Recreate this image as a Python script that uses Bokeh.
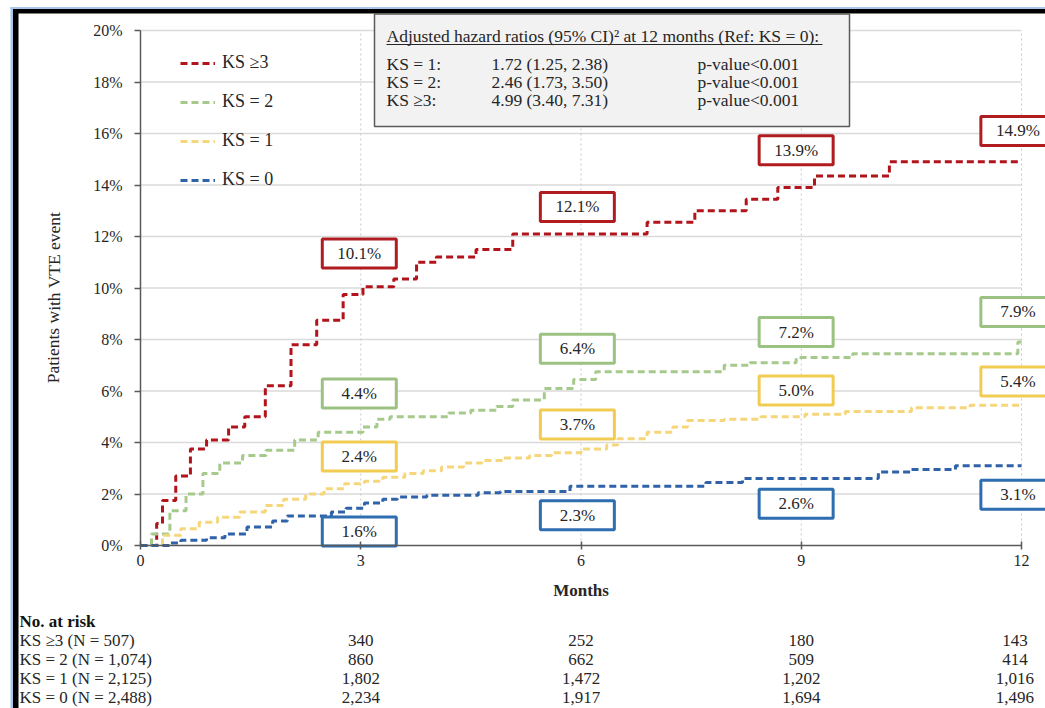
from bokeh.plotting import figure
from bokeh.models import FixedTicker, PrintfTickFormatter, Legend, LegendItem, Range1d
from bokeh.core.properties import value
from bokeh.embed import file_html
from bokeh.resources import INLINE

FONT = "Liberation Serif"

# ---------------- data ----------------
months_ticks = [0, 3, 6, 9, 12]
pct_ticks = [0, 2, 4, 6, 8, 10, 12, 14, 16, 18, 20]

series_names = ["KS \u22653", "KS = 2", "KS = 1", "KS = 0"]

ks3_t = [0, 0.22, 0.3, 0.48, 0.68, 0.9, 1.2, 1.42, 1.7, 2.05, 2.4, 2.76, 3.03, 3.45, 3.76,
         4.03, 4.57, 5.07, 6.9, 7.55, 8.25, 8.68, 9.18, 10.2, 12]
ks3_v = [0, 0.85, 1.75, 2.7, 3.75, 4.1, 4.6, 5.0, 6.2, 7.8, 8.75, 9.75, 10.05, 10.35, 11.0,
         11.2, 11.5, 12.1, 12.55, 13.0, 13.45, 13.9, 14.35, 14.9, 14.9]

ks2_t = [0, 0.15, 0.4, 0.62, 0.85, 1.08, 1.39, 1.71, 2.1, 2.42, 3.03, 3.22, 3.4, 4.2, 4.5,
         4.85, 5.07, 5.5, 5.9, 6.2, 7.95, 8.3, 8.93, 9.7, 11.95, 12]
ks2_v = [0, 0.45, 1.35, 2.0, 2.8, 3.2, 3.5, 3.7, 4.1, 4.4, 4.6, 4.9, 5.0, 5.15, 5.25,
         5.4, 5.65, 6.1, 6.45, 6.75, 7.0, 7.1, 7.3, 7.45, 7.9, 7.9]

ks1_t = [0, 0.3, 0.55, 0.8, 1.05, 1.35, 1.7, 1.95, 2.25, 2.5, 2.78, 3.05, 3.3, 3.6, 3.85,
         4.1, 4.4, 4.65, 4.95, 5.3, 5.6, 6.0, 6.35, 6.5, 6.9, 7.25, 7.45, 7.95, 8.45, 9.05,
         9.6, 10.5, 11.3, 12]
ks1_v = [0, 0.4, 0.65, 0.9, 1.1, 1.3, 1.55, 1.8, 2.0, 2.2, 2.4, 2.5, 2.65, 2.8, 2.9,
         3.05, 3.2, 3.3, 3.4, 3.5, 3.6, 3.75, 3.9, 4.15, 4.4, 4.6, 4.85, 4.9, 5.0, 5.1,
         5.2, 5.35, 5.45, 5.45]

ks0_t = [0, 0.4, 0.55, 0.9, 1.15, 1.45, 1.8, 2.0, 2.6, 2.8, 3.05, 3.3, 3.5, 3.9, 4.6, 4.9,
         5.85, 7.7, 8.2, 10.05, 10.5, 11.1, 12]
ks0_v = [0, 0.1, 0.2, 0.3, 0.45, 0.72, 0.95, 1.15, 1.3, 1.45, 1.65, 1.8, 1.88, 1.95, 2.05,
         2.1, 2.3, 2.45, 2.6, 2.85, 2.95, 3.1, 3.1]

label_months = [3, 6, 9, 12]
ks3_labels = [10.1, 12.1, 13.9, 14.9]
ks2_labels = [4.4, 6.4, 7.2, 7.9]
ks1_labels = [2.4, 3.7, 5.0, 5.4]
ks0_labels = [1.6, 2.3, 2.6, 3.1]

hr_title = "Adjusted hazard ratios (95% CI)\u00b2 at 12 months (Ref: KS = 0):"
hr_rows = ["KS = 1:", "KS = 2:", "KS \u22653:"]
hr_values = ["1.72 (1.25, 2.38)", "2.46 (1.73, 3.50)", "4.99 (3.40, 7.31)"]
hr_pvalues = ["p-value<0.001", "p-value<0.001", "p-value<0.001"]

risk_months = [3, 6, 9, 12]
risk_labels = ["KS \u22653 (N = 507)", "KS = 2 (N = 1,074)", "KS = 1 (N = 2,125)", "KS = 0 (N = 2,488)"]
risk_ks3 = [340, 252, 180, 143]
risk_ks2 = [860, 662, 509, 414]
risk_ks1 = [1802, 1472, 1202, 1016]
risk_ks0 = [2234, 1917, 1694, 1496]

# ---------------- styles / layout ----------------
line_colors = ["#B2141C", "#A6C98C", "#F5D67A", "#2F62A8"]
box_colors = ["#B01C20", "#9CC283", "#F2CB52", "#2E6EB0"]
TXT = "#262626"

PAGE_W, PAGE_H = 1045, 708
X0, Y0, PXM, PXP = 140.0, 545.0, 73.42, 25.75   # pixel position of (0 months, 0 %) and scale


def dx(px):
    return (px - X0) / PXM


def dy(py):
    return (Y0 - py) / PXP


p = figure(width=PAGE_W, height=PAGE_H, output_backend="svg", toolbar_location=None,
           x_range=Range1d(dx(0), dx(PAGE_W)), y_range=Range1d(dy(PAGE_H), dy(0)),
           min_border=0, min_border_left=0, min_border_right=0,
           min_border_top=0, min_border_bottom=0)
p.outline_line_color = None
p.background_fill_color = "white"
p.border_fill_color = "white"
p.xgrid.visible = False
p.ygrid.visible = False

# axes pinned at the origin
p.yaxis.fixed_location = 0
p.xaxis.fixed_location = 0
p.yaxis.ticker = FixedTicker(ticks=pct_ticks)
p.yaxis.formatter = PrintfTickFormatter(format="%d%%")
p.yaxis.bounds = (0, 20)
p.xaxis.ticker = FixedTicker(ticks=months_ticks)
p.xaxis.bounds = (0, 12)
for ax in (p.xaxis, p.yaxis):
    ax.axis_line_color = "#5A5A5A"
    ax.axis_line_width = 1.5
    ax.major_tick_line_color = "#5A5A5A"
    ax.major_tick_line_width = 1.5
    ax.minor_tick_line_color = None
    ax.major_label_text_font = FONT
    ax.major_label_text_font_size = "16px"
    ax.major_label_text_color = TXT
p.yaxis.major_tick_out = 6
p.yaxis.major_tick_in = 0
p.yaxis.major_label_standoff = 12
p.xaxis.major_tick_out = 4
p.xaxis.major_tick_in = 4
p.xaxis.major_label_standoff = 5

# picture border (blue hairline + black frame of the original image)
p.quad(left=[dx(10)], right=[dx(PAGE_W)], top=[dy(6.5)], bottom=[dy(8.5)], fill_color="#A9C6E8", line_color=None)
p.quad(left=[dx(10)], right=[dx(12.5)], top=[dy(6.5)], bottom=[dy(PAGE_H)], fill_color="#A9C6E8", line_color=None)
p.quad(left=[dx(12.5)], right=[dx(PAGE_W)], top=[dy(8.5)], bottom=[dy(13)], fill_color="black", line_color=None)
p.quad(left=[dx(12.5)], right=[dx(18)], top=[dy(8.5)], bottom=[dy(PAGE_H)], fill_color="black", line_color=None)

# grid lines
gy = [v for v in pct_ticks if v > 0]
p.segment(x0=[0] * len(gy), x1=[12] * len(gy), y0=gy, y1=gy, line_color="#DADADA", line_width=1.5)
gx = [v for v in months_ticks if v > 0]
p.segment(x0=gx, x1=gx, y0=[0] * len(gx), y1=[20] * len(gx), line_color="#C8C8C8",
          line_width=1, line_dash="2 3")

# curves
all_t = [ks3_t, ks2_t, ks1_t, ks0_t]
all_v = [ks3_v, ks2_v, ks1_v, ks0_v]
renderers = []
for tt, vv, c in zip(all_t, all_v, line_colors):
    renderers.append(p.step(x=tt, y=vv, mode="after", line_color=c, line_width=3, line_dash="7 4"))

legend = Legend(items=[LegendItem(label=n, renderers=[r]) for n, r in zip(series_names, renderers)],
                location=(180, 518), margin=0, padding=0, spacing=18, label_height=20,
                glyph_height=20, glyph_width=35, label_standoff=7,
                background_fill_alpha=0, border_line_color=None,
                label_text_font=FONT, label_text_font_size="18px", label_text_color=TXT)
p.add_layout(legend)

# value boxes
all_labels = [ks3_labels, ks2_labels, ks1_labels, ks0_labels]
box_offsets = [[1.24, 1.05, 1.45, 1.2], [1.5, 1.24, 1.09, 1.17],
               [1.06, 1.0, 1.02, 0.97], [-1.06, -1.13, -0.98, -1.13]]
box_shift = [-0.02, -0.05, -0.07, -0.05]
for labs, offs, bc in zip(all_labels, box_offsets, box_colors):
    bx = [m + s for m, s in zip(label_months, box_shift)]
    by = [v + o for v, o in zip(labs, offs)]
    p.rect(x=bx, y=by, width=74, height=29, width_units="screen", height_units="screen",
           fill_color="white", line_color=bc, line_width=3)
    p.text(x=bx, y=by, text=["%.1f%%" % v for v in labs], text_align="center",
           text_baseline="middle", text_font=value(FONT), text_font_size="17px", text_color=TXT)

# hazard ratio box
p.quad(left=[dx(374)], right=[dx(849)], bottom=[dy(126)], top=[dy(13.5)], fill_color="#F2F2F2",
       line_color="#5A5A5A", line_width=1.5)
p.text(x=[dx(386)], y=[dy(35)], text=[hr_title], text_font=value(FONT), text_font_size="17.5px",
       text_color=TXT, text_baseline="middle")
p.segment(x0=[dx(386)], x1=[dx(822)], y0=[dy(44)], y1=[dy(44)], line_color=TXT, line_width=1)
hy = [dy(63 + 18 * i) for i in range(len(hr_rows))]
for xx, col in ((386, hr_rows), (491, hr_values), (697, hr_pvalues)):
    p.text(x=[dx(xx)] * len(col), y=hy, text=col, text_font=value(FONT), text_font_size="17.5px",
           text_color=TXT, text_baseline="middle")

# axis titles
p.text(x=[dx(53)], y=[dy(297)], text=["Patients with VTE event"], angle=1.5707963,
       text_font=value(FONT), text_font_size="17.5px", text_color=TXT,
       text_align="center", text_baseline="middle")
p.text(x=[6], y=[dy(590)], text=["Months"], text_font=value(FONT), text_font_size="17px",
       text_font_style="bold", text_color=TXT, text_align="center", text_baseline="middle")

# number at risk table
p.text(x=[dx(19)], y=[dy(621)], text=["No. at risk"], text_font=value(FONT), text_font_size="17px",
       text_font_style="bold", text_color="#111111", text_baseline="middle")
col_shift = [0, 0, 0, -0.09]
for i, (lab, counts) in enumerate(zip(risk_labels, [risk_ks3, risk_ks2, risk_ks1, risk_ks0])):
    yy = dy(640 + 19 * i)
    p.text(x=[dx(19)], y=[yy], text=[lab], text_font=value(FONT), text_font_size="17px",
           text_color=TXT, text_baseline="middle")
    p.text(x=[m + s for m, s in zip(risk_months, col_shift)], y=[yy] * len(counts),
           text=[f"{n:,}" for n in counts], text_font=value(FONT), text_font_size="17px",
           text_color=TXT, text_align="center", text_baseline="middle")

open("out.html", "w").write(file_html(p, INLINE))
